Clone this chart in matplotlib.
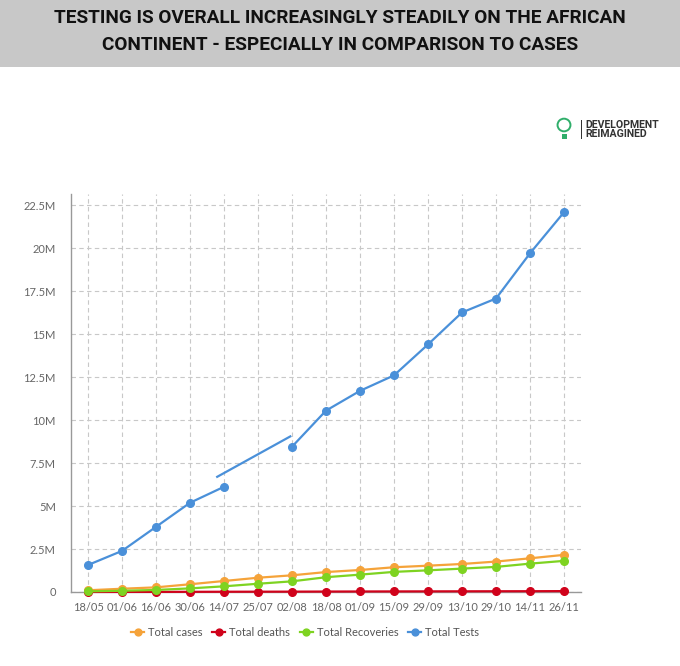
import numpy as np
import matplotlib.pyplot as plt
from matplotlib.ticker import FuncFormatter, MultipleLocator
from matplotlib.patches import Rectangle, Circle

# Data (millions)
dates = ['18/05', '01/06', '16/06', '30/06', '14/07', '25/07', '02/08', '18/08',
         '01/09', '15/09', '29/09', '13/10', '29/10', '14/11', '26/11']
total_cases = [0.10, 0.19, 0.27, 0.45, 0.64, 0.83, 0.97, 1.16,
               1.28, 1.44, 1.53, 1.63, 1.77, 1.96, 2.16]
total_deaths = [0.003, 0.005, 0.007, 0.011, 0.015, 0.018, 0.021, 0.026,
                0.030, 0.034, 0.037, 0.040, 0.043, 0.046, 0.052]
total_recoveries = [0.04, 0.07, 0.12, 0.21, 0.33, 0.48, 0.62, 0.86,
                    1.01, 1.17, 1.26, 1.36, 1.46, 1.65, 1.81]
total_tests = [1.57, 2.39, 3.79, 5.19, 6.12, np.nan, 8.45, 10.55,
               11.70, 12.60, 14.40, 16.26, 17.07, 19.70, 22.09]
# stray segment drawn between 14/07 and 02/08 in the original
stray_x = [3.8, 5.95]
stray_y = [6.70, 9.05]

colors = {'cases': '#f5a33a', 'deaths': '#d0021b',
          'recov': '#7ed321', 'tests': '#4a90d9'}

plt.rcParams['font.family'] = ['Lato', 'DejaVu Sans']

fig = plt.figure(figsize=(6.8, 6.66), dpi=100)

# title banner
fig.patches.append(Rectangle((0, 1 - 67 / 666), 1, 67 / 666, transform=fig.transFigure,
                             facecolor='#c8c8c8', edgecolor='none', zorder=0))
title_font = ['Roboto', 'DejaVu Sans']
fig.text(0.5, 1 - 18 / 666, 'TESTING IS OVERALL INCREASINGLY STEADILY ON THE AFRICAN',
         ha='center', va='center', fontsize=13.7, fontweight='bold', family=title_font, color='#111111')
fig.text(0.5, 1 - 45 / 666, 'CONTINENT - ESPECIALLY IN COMPARISON TO CASES',
         ha='center', va='center', fontsize=13.7, fontweight='bold', family=title_font, color='#111111')

# logo
fig.patches.append(Circle((564 / 680, 1 - 125 / 666), 0.0095, transform=fig.transFigure,
                          facecolor='none', edgecolor='#2fae6a', lw=1.4))
fig.patches.append(Rectangle((561.5 / 680, 1 - 139 / 666), 5 / 680, 5 / 666, transform=fig.transFigure,
                             facecolor='#2fae6a', edgecolor='none'))
fig.patches.append(Rectangle((581 / 680, 1 - 139 / 666), 1.2 / 680, 19 / 666, transform=fig.transFigure,
                             facecolor='#333333', edgecolor='none'))
fig.text(585 / 680, 1 - 125 / 666, 'DEVELOPMENT', ha='left', va='center', fontsize=7.6,
         fontweight='bold', family=title_font, color='#333333')
fig.text(585 / 680, 1 - 134 / 666, 'REIMAGINED', ha='left', va='center', fontsize=7.6,
         fontweight='bold', family=title_font, color='#333333')

ax = fig.add_axes([71 / 680, 1 - 592 / 666, 510 / 680, 398 / 666])
x = np.arange(len(dates))

lk = dict(lw=1.6, marker='o', markersize=5.5, clip_on=False)
ax.plot(x, total_cases, color=colors['cases'], label='Total cases', zorder=3, **lk)
ax.plot(x, total_deaths, color=colors['deaths'], label='Total deaths', zorder=3, **lk)
ax.plot(x, total_recoveries, color=colors['recov'], label='Total Recoveries', zorder=4, **lk)
ax.plot(x, total_tests, color=colors['tests'], label='Total Tests', zorder=5, **lk)
ax.plot(stray_x, stray_y, color=colors['tests'], lw=1.6, zorder=5)

ax.set_xlim(-0.5, len(dates) - 0.5)
ax.set_ylim(0, 23.15)
ax.set_xticks(x)
ax.set_xticklabels(dates)
ax.yaxis.set_major_locator(MultipleLocator(2.5))
ax.yaxis.set_major_formatter(FuncFormatter(lambda v, p: '0' if v == 0 else f'{v:g}M'))
ax.tick_params(axis='both', length=0, labelsize=8, labelcolor='#666666')
ax.tick_params(axis='y', pad=11)
ax.tick_params(axis='x', pad=7)

ax.grid(True, color='#c8c8c8', linestyle=(0, (4, 3)), linewidth=0.8)
ax.set_axisbelow(True)
for s in ['top', 'right']:
    ax.spines[s].set_visible(False)
for s in ['left', 'bottom']:
    ax.spines[s].set_color('#999999')
    ax.spines[s].set_linewidth(1.0)

ax.legend(loc='center', bbox_to_anchor=(305 / 680, 1 - 632 / 666), bbox_transform=fig.transFigure,
          ncol=4, frameon=False, fontsize=8, labelcolor='#555555', handlelength=1.2,
          handletextpad=0.35, columnspacing=0.85, markerscale=0.9)

fig.savefig('out.png', dpi=100)
